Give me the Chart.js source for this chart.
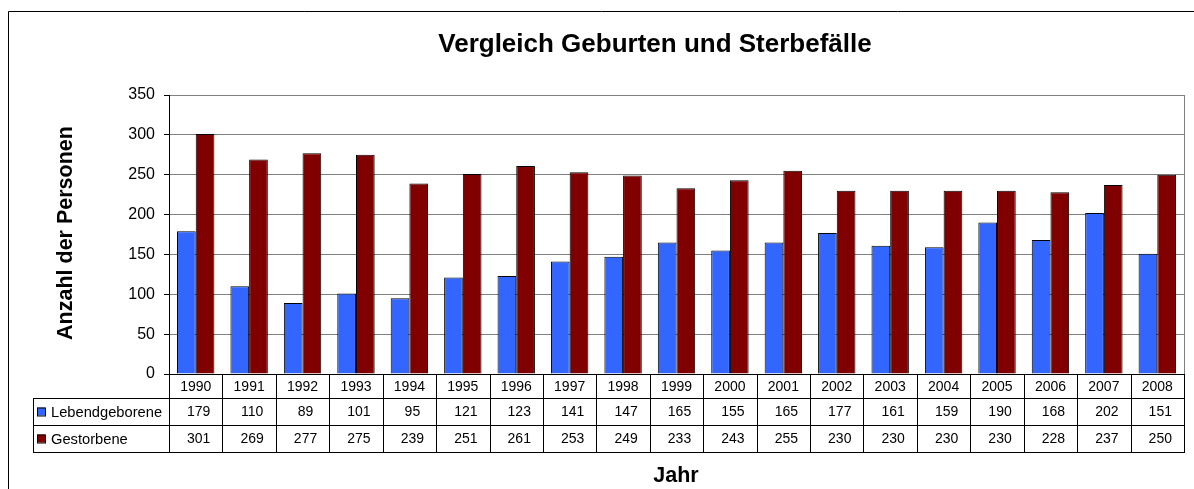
<!DOCTYPE html>
<html>
<head>
<meta charset="utf-8">
<script src="https://cdn.jsdelivr.net/npm/chart.js@4.4.1/dist/chart.umd.min.js"></script>
<style>
html, body { margin: 0; padding: 0; background: #fff; }
</style>
</head>
<body>
<canvas id="chart" width="1194" height="489"></canvas>
<script>
const years = ["1990", "1991", "1992", "1993", "1994", "1995", "1996", "1997", "1998", "1999",
               "2000", "2001", "2002", "2003", "2004", "2005", "2006", "2007", "2008"];
const lebendgeborene = [179, 110, 89, 101, 95, 121, 123, 141, 147, 165, 155, 165, 177, 161, 159, 190, 168, 202, 151];
const gestorbene = [301, 269, 277, 275, 239, 251, 261, 253, 249, 233, 243, 255, 230, 230, 230, 230, 228, 237, 250];
const seriesNames = ["Lebendgeborene", "Gestorbene"];
const seriesColors = ["#3366ff", "#800000"];

const FONT = "Arial, 'Liberation Sans', sans-serif";

// draws frame, titles and the data table below the plot
const tablePlugin = {
    id: "dataTable",
    afterDraw(chart) {
        const ctx = chart.ctx;
        const area = chart.chartArea;
        const x = chart.scales.x;
        const colW = (area.right - area.left) / years.length;
        const rows = [area.bottom, 398, 425, 452];
        const legendLeft = 33;

        ctx.save();

        // outer frame
        ctx.strokeStyle = "#000";
        ctx.lineWidth = 1;
        ctx.beginPath();
        ctx.moveTo(8.5, 489);
        ctx.lineTo(8.5, 11.5);
        ctx.lineTo(1194, 11.5);
        ctx.stroke();

        // plot area border (right side)
        ctx.strokeStyle = "#808080";
        ctx.beginPath();
        ctx.moveTo(area.right + 0.5, area.top);
        ctx.lineTo(area.right + 0.5, area.bottom);
        ctx.stroke();

        // title
        ctx.fillStyle = "#000";
        ctx.font = "bold 26px " + FONT;
        ctx.textAlign = "center";
        ctx.textBaseline = "middle";
        ctx.fillText("Vergleich Geburten und Sterbefälle", 655, 45);

        // axis titles
        ctx.font = "bold 21.5px " + FONT;
        ctx.fillText("Jahr", 676, 476);
        ctx.save();
        ctx.translate(66, 233);
        ctx.rotate(-Math.PI / 2);
        ctx.fillText("Anzahl der Personen", 0, 0);
        ctx.restore();

        // table lines
        ctx.strokeStyle = "#000";
        ctx.beginPath();
        ctx.moveTo(area.left - 5, rows[0] + 0.5);
        ctx.lineTo(area.right + 1, rows[0] + 0.5);
        for (let r = 1; r < rows.length; r++) {
            ctx.moveTo(legendLeft, rows[r] + 0.5);
            ctx.lineTo(area.right + 1, rows[r] + 0.5);
        }
        ctx.moveTo(legendLeft + 0.5, rows[1]);
        ctx.lineTo(legendLeft + 0.5, rows[3]);
        for (let i = 0; i <= years.length; i++) {
            const lx = Math.round(area.left + i * colW) + 0.5;
            ctx.moveTo(lx, rows[0]);
            ctx.lineTo(lx, rows[3]);
        }
        ctx.stroke();

        // table text
        ctx.font = "14px " + FONT;
        ctx.textAlign = "center";
        const values = [lebendgeborene, gestorbene];
        years.forEach((year, i) => {
            const cx = x.getPixelForValue(i);
            ctx.fillText(year, cx, (rows[0] + rows[1]) / 2 + 1);
            values.forEach((vals, s) => {
                ctx.fillText(String(vals[i]), cx + 3, (rows[s + 1] + rows[s + 2]) / 2 + 1);
            });
        });

        // legend keys
        ctx.textAlign = "left";
        ctx.font = "14.7px " + FONT;
        seriesNames.forEach((name, s) => {
            const cy = (rows[s + 1] + rows[s + 2]) / 2;
            ctx.fillStyle = seriesColors[s];
            ctx.fillRect(37, cy - 4, 8, 8);
            ctx.strokeStyle = "#000";
            ctx.strokeRect(37.5, cy - 3.5, 8, 8);
            ctx.fillStyle = "#000";
            ctx.fillText(name, 51, cy + 1);
        });

        ctx.restore();
    }
};

new Chart(document.getElementById("chart"), {
    type: "bar",
    data: {
        labels: years,
        datasets: [
            {
                label: seriesNames[0],
                data: lebendgeborene,
                backgroundColor: seriesColors[0],
                borderColor: "#000",
                borderWidth: 1,
                barPercentage: 1,
                categoryPercentage: 0.7
            },
            {
                label: seriesNames[1],
                data: gestorbene,
                backgroundColor: seriesColors[1],
                borderColor: "#000",
                borderWidth: 1,
                barPercentage: 1,
                categoryPercentage: 0.7
            }
        ]
    },
    options: {
        responsive: false,
        animation: false,
        layout: {
            padding: { top: 95, bottom: 115, right: 10, left: 0 }
        },
        plugins: {
            legend: { display: false },
            tooltip: { enabled: false }
        },
        scales: {
            x: {
                display: false
            },
            y: {
                min: 0,
                max: 350,
                ticks: {
                    stepSize: 50,
                    color: "#000",
                    padding: 9,
                    font: { family: FONT, size: 16 }
                },
                grid: {
                    color: "#808080",
                    tickColor: "#000",
                    tickLength: 5
                },
                border: {
                    color: "#000"
                },
                afterFit(scale) {
                    scale.width = 169;
                }
            }
        }
    },
    plugins: [tablePlugin]
});
</script>
</body>
</html>
